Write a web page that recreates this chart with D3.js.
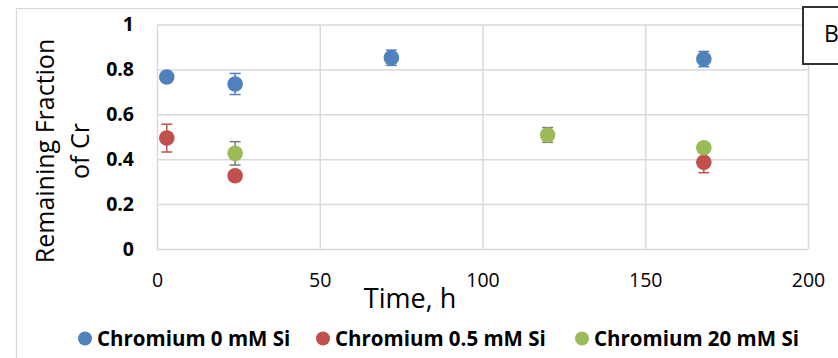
<!DOCTYPE html>
<html>
<head>
<meta charset="utf-8">
<script src="https://cdn.jsdelivr.net/npm/d3@7"></script>
<style>
  body { margin: 0; background: #fff; }
  svg { display: block; font-family: "Open Sans", sans-serif; }
</style>
</head>
<body>
<svg id="chart" width="838" height="358"></svg>
<script>
// values: [time h, remaining fraction, error]
const seriesNames = ["Chromium 0 mM Si", "Chromium 0.5 mM Si", "Chromium 20 mM Si"];
const blueData = [[3, 0.766, 0.01], [24, 0.735, 0.047], [72, 0.852, 0.034], [168, 0.846, 0.034]];
const redData = [[3, 0.494, 0.062], [24, 0.326, 0.01], [168, 0.386, 0.046]];
const greenData = [[24, 0.426, 0.052], [120, 0.508, 0.033], [168, 0.451, 0.01]];
const xTicks = [0, 50, 100, 150, 200];
const yTicks = [0, 0.2, 0.4, 0.6, 0.8, 1];

const colors = ["#4f81bd", "#c0504d", "#9bbb59"];
const errColors = ["#4f81bd", "#c0504d", "#7a7a7a"];
const allData = [blueData, redData, greenData];

const svg = d3.select("#chart");
const gridColor = "#d9d9d9";

// chart area frame
svg.append("rect")
    .attr("x", 16.5).attr("y", 8.5)
    .attr("width", 900).attr("height", 400)
    .attr("fill", "none").attr("stroke", gridColor).attr("stroke-width", 1.2);

const x = d3.scaleLinear().domain([0, 200]).range([157, 808]);
const y = d3.scaleLinear().domain([0, 1]).range([249, 24.5]);

// grid
svg.append("g")
    .attr("transform", "translate(0,249)")
    .call(d3.axisBottom(x).tickValues(xTicks).tickSize(-(249 - 24.5)).tickFormat(""))
    .call(g => g.select(".domain").remove())
    .call(g => g.selectAll("line").attr("stroke", gridColor).attr("stroke-width", 1.5));
svg.append("g")
    .attr("transform", "translate(157,0)")
    .call(d3.axisLeft(y).tickValues(yTicks).tickSize(-(808 - 157)).tickFormat(""))
    .call(g => g.select(".domain").remove())
    .call(g => g.selectAll("line").attr("stroke", gridColor).attr("stroke-width", 1.5));

// tick labels
svg.append("g")
    .attr("transform", "translate(0,249)")
    .call(d3.axisBottom(x).tickValues(xTicks).tickSize(0).tickPadding(24).tickFormat(d3.format("d")))
    .call(g => g.select(".domain").remove())
    .call(g => g.selectAll("text")
        .attr("font-family", "Open Sans").attr("font-size", 19.5).attr("fill", "#000"));

svg.append("g")
    .attr("transform", "translate(157,0)")
    .call(d3.axisLeft(y).tickValues(yTicks).tickSize(0).tickPadding(23).tickFormat(d => d3.format("")(d)))
    .call(g => g.select(".domain").remove())
    .call(g => g.selectAll("text")
        .attr("font-family", "Open Sans").attr("font-weight", "bold")
        .attr("font-size", 19.5).attr("fill", "#000"));

// axis titles
svg.append("text")
    .attr("x", 410).attr("y", 308)
    .attr("text-anchor", "middle")
    .attr("font-size", 27).attr("fill", "#000")
    .text("Time, h");

const yTitle = svg.append("text")
    .attr("transform", "translate(0,151) rotate(-90)")
    .attr("text-anchor", "middle")
    .attr("font-size", 25).attr("fill", "#000");
yTitle.append("tspan").attr("x", 0).attr("y", 54).text("Remaining Fraction");
yTitle.append("tspan").attr("x", 0).attr("y", 89).text("of Cr");

// error bars then markers
allData.forEach((data, i) => {
    const g = svg.append("g");
    const eb = g.selectAll(".err").data(data).enter().append("g")
        .attr("stroke", errColors[i]).attr("stroke-width", 1.5);
    eb.append("line")
        .attr("x1", d => x(d[0])).attr("x2", d => x(d[0]))
        .attr("y1", d => y(d[1] - d[2])).attr("y2", d => y(d[1] + d[2]));
    eb.append("line")
        .attr("x1", d => x(d[0]) - 5.5).attr("x2", d => x(d[0]) + 5.5)
        .attr("y1", d => y(d[1] + d[2])).attr("y2", d => y(d[1] + d[2]));
    eb.append("line")
        .attr("x1", d => x(d[0]) - 5.5).attr("x2", d => x(d[0]) + 5.5)
        .attr("y1", d => y(d[1] - d[2])).attr("y2", d => y(d[1] - d[2]));
});
allData.forEach((data, i) => {
    svg.append("g").selectAll("circle").data(data).enter().append("circle")
        .attr("cx", d => x(d[0])).attr("cy", d => y(d[1]))
        .attr("r", 7.8).attr("fill", colors[i]);
});

// legend
const legendX = [85, 323, 582];
const legend = svg.append("g");
seriesNames.forEach((name, i) => {
    legend.append("circle")
        .attr("cx", legendX[i]).attr("cy", 338.5).attr("r", 7)
        .attr("fill", colors[i]);
    legend.append("text")
        .attr("x", legendX[i] + 12).attr("y", 346)
        .attr("font-size", 20.5).attr("font-weight", "bold").attr("fill", "#000")
        .text(name);
});

// panel label box
svg.append("rect")
    .attr("x", 803).attr("y", 7)
    .attr("width", 80).attr("height", 57)
    .attr("fill", "#fff").attr("stroke", "#333").attr("stroke-width", 2);
svg.append("text")
    .attr("x", 824).attr("y", 41.5)
    .attr("font-size", 23).attr("fill", "#000")
    .text("B");
</script>
</body>
</html>
